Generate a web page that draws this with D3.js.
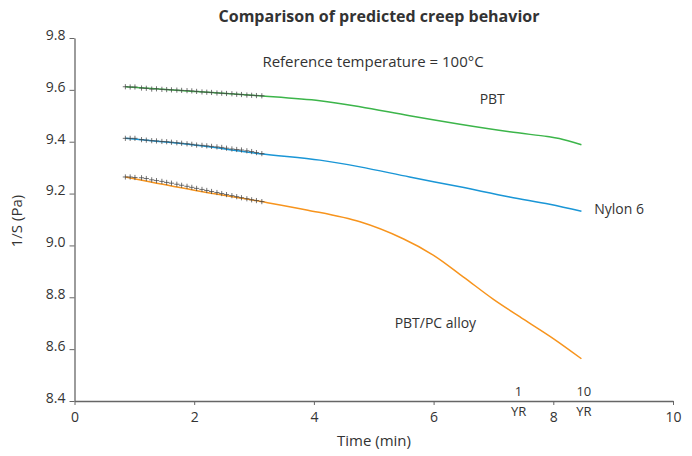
<!DOCTYPE html>
<html>
<head>
<meta charset="utf-8">
<script src="https://cdn.jsdelivr.net/npm/d3@7"></script>
<style>
  body { margin: 0; background: #fff; }
  svg text { font-family: "Open Sans", Lato, sans-serif; fill: #333; }
</style>
</head>
<body>
<svg id="chart" width="692" height="456"></svg>
<script>
// Axis ticks
const xTicks = [0, 2, 4, 6, 8, 10];
const yTicks = [8.4, 8.6, 8.8, 9.0, 9.2, 9.4, 9.6, 9.8];

// Predicted master curves (time, 1/S)
const pbtCurve = [[0.85, 9.612], [2.0, 9.594], [3.1, 9.577], [4.1, 9.558], [4.77, 9.535], [5.6, 9.500],
                  [6.44, 9.467], [7.27, 9.438], [7.9, 9.420], [8.1, 9.412], [8.47, 9.388]];
const nylonCurve = [[0.85, 9.413], [2.0, 9.387], [3.1, 9.354], [4.1, 9.329], [4.77, 9.303], [5.6, 9.264],
                    [6.44, 9.226], [7.27, 9.187], [7.94, 9.159], [8.47, 9.132]];
const alloyCurve = [[0.85, 9.264], [2.0, 9.213], [3.1, 9.170], [3.9, 9.136], [4.77, 9.091], [5.5, 9.025],
                    [6.0, 8.962], [6.5, 8.878], [7.0, 8.792], [7.5, 8.716], [8.0, 8.641], [8.47, 8.563]];

// Measured points (time shared by all three materials)
const measTime = [0.85, 0.93, 1.01, 1.12, 1.20, 1.29, 1.37, 1.46, 1.54, 1.62, 1.71, 1.79, 1.88, 1.96, 2.04,
                  2.13, 2.21, 2.29, 2.38, 2.46, 2.54, 2.63, 2.71, 2.79, 2.88, 2.96, 3.04, 3.13];
const pbtMeas = [9.612, 9.611, 9.611, 9.607, 9.606, 9.603, 9.604, 9.602, 9.601, 9.600, 9.599, 9.598, 9.597, 9.596, 9.594,
                 9.592, 9.591, 9.590, 9.588, 9.587, 9.586, 9.585, 9.583, 9.582, 9.580, 9.579, 9.578, 9.577];
const nylonMeas = [9.413, 9.413, 9.413, 9.408, 9.406, 9.404, 9.403, 9.401, 9.400, 9.398, 9.396, 9.394, 9.392, 9.390, 9.387,
                   9.386, 9.384, 9.382, 9.380, 9.378, 9.375, 9.372, 9.370, 9.368, 9.365, 9.362, 9.358, 9.354];
const alloyMeas = [9.264, 9.264, 9.262, 9.261, 9.258, 9.253, 9.250, 9.247, 9.243, 9.240, 9.236, 9.232, 9.228, 9.224, 9.220,
                   9.216, 9.212, 9.208, 9.204, 9.200, 9.196, 9.192, 9.188, 9.184, 9.180, 9.176, 9.173, 9.169];

const seriesNames = ["PBT", "Nylon 6", "PBT/PC alloy"];
const seriesColors = ["#3cb54a", "#1a96d6", "#f7941d"];

// Service-life markers on the time axis
const lifeMarks = [{ t: 7.42, top: "1", bottom: "YR" }, { t: 8.51, top: "10", bottom: "YR" }];

const svg = d3.select("#chart");
const x = d3.scaleLinear().domain([0, 10]).range([74.5, 673]);
const y = d3.scaleLinear().domain([8.4, 9.8]).range([401, 38]);

// Axes
const xAxis = svg.append("g").attr("transform", `translate(0,${y(8.4)})`)
  .call(d3.axisBottom(x).tickValues(xTicks).tickFormat(d3.format("d")).tickSize(4).tickSizeOuter(0));
const yAxis = svg.append("g").attr("transform", `translate(${x(0)},0)`)
  .call(d3.axisLeft(y).tickValues(yTicks).tickFormat(d3.format(".1f")).tickSize(5).tickSizeOuter(0));
[xAxis, yAxis].forEach(g => {
  g.select(".domain").attr("stroke", "#666").attr("stroke-width", 1.3);
  g.selectAll(".tick line").attr("stroke", "#666");
  g.selectAll(".tick text").style("font-size", "14px").attr("fill", "#333");
});
xAxis.selectAll(".tick text").attr("dy", "1.0em");
yAxis.selectAll(".tick text").attr("dy", "0.1em").attr("x", -9);

// Curves
const line = d3.line().x(d => x(d[0])).y(d => y(d[1])).curve(d3.curveCatmullRom.alpha(0.5));
[pbtCurve, nylonCurve, alloyCurve].forEach((c, i) => {
  svg.append("path").datum(c).attr("d", line)
    .attr("fill", "none").attr("stroke", seriesColors[i]).attr("stroke-width", 1.5);
});

// Measured points as plus marks
const plusShape = {
  draw(ctx) { const r = 2.6; ctx.moveTo(-r, 0); ctx.lineTo(r, 0); ctx.moveTo(0, -r); ctx.lineTo(0, r); }
};
[pbtMeas, nylonMeas, alloyMeas].forEach(vals => {
  svg.append("g").selectAll("path").data(vals).join("path")
    .attr("transform", (v, j) => `translate(${x(measTime[j])},${y(v)})`)
    .attr("d", d3.symbol().type(plusShape))
    .attr("fill", "none").attr("stroke", "#444").attr("stroke-opacity", 0.75).attr("stroke-width", 1);
});

// Series labels
const labelPos = [[6.98, 9.545], [9.1, 9.12], [6.03, 8.68]];
seriesNames.forEach((n, i) => {
  svg.append("text").attr("x", x(labelPos[i][0])).attr("y", y(labelPos[i][1]))
    .attr("text-anchor", "middle").style("font-size", "14px").text(n);
});

// Service-life labels
lifeMarks.forEach(m => {
  svg.append("text").attr("x", x(m.t)).attr("y", 396).attr("text-anchor", "middle")
    .style("font-size", "13px").text(m.top);
  svg.append("text").attr("x", x(m.t)).attr("y", 416).attr("text-anchor", "middle")
    .style("font-size", "13px").text(m.bottom);
});

// Titles
svg.append("text").attr("x", 379).attr("y", 22).attr("text-anchor", "middle")
  .style("font-size", "16px").style("font-weight", "bold").attr("fill", "#222")
  .text("Comparison of predicted creep behavior");
svg.append("text").attr("x", 373).attr("y", 67).attr("text-anchor", "middle")
  .style("font-size", "15px").text("Reference temperature = 100°C");
svg.append("text").attr("x", 374).attr("y", 446).attr("text-anchor", "middle")
  .style("font-size", "15px").text("Time (min)");
svg.append("text").attr("transform", "translate(22,221) rotate(-90)").attr("text-anchor", "middle")
  .style("font-size", "15px").text("1/S (Pa)");
</script>
</body>
</html>
